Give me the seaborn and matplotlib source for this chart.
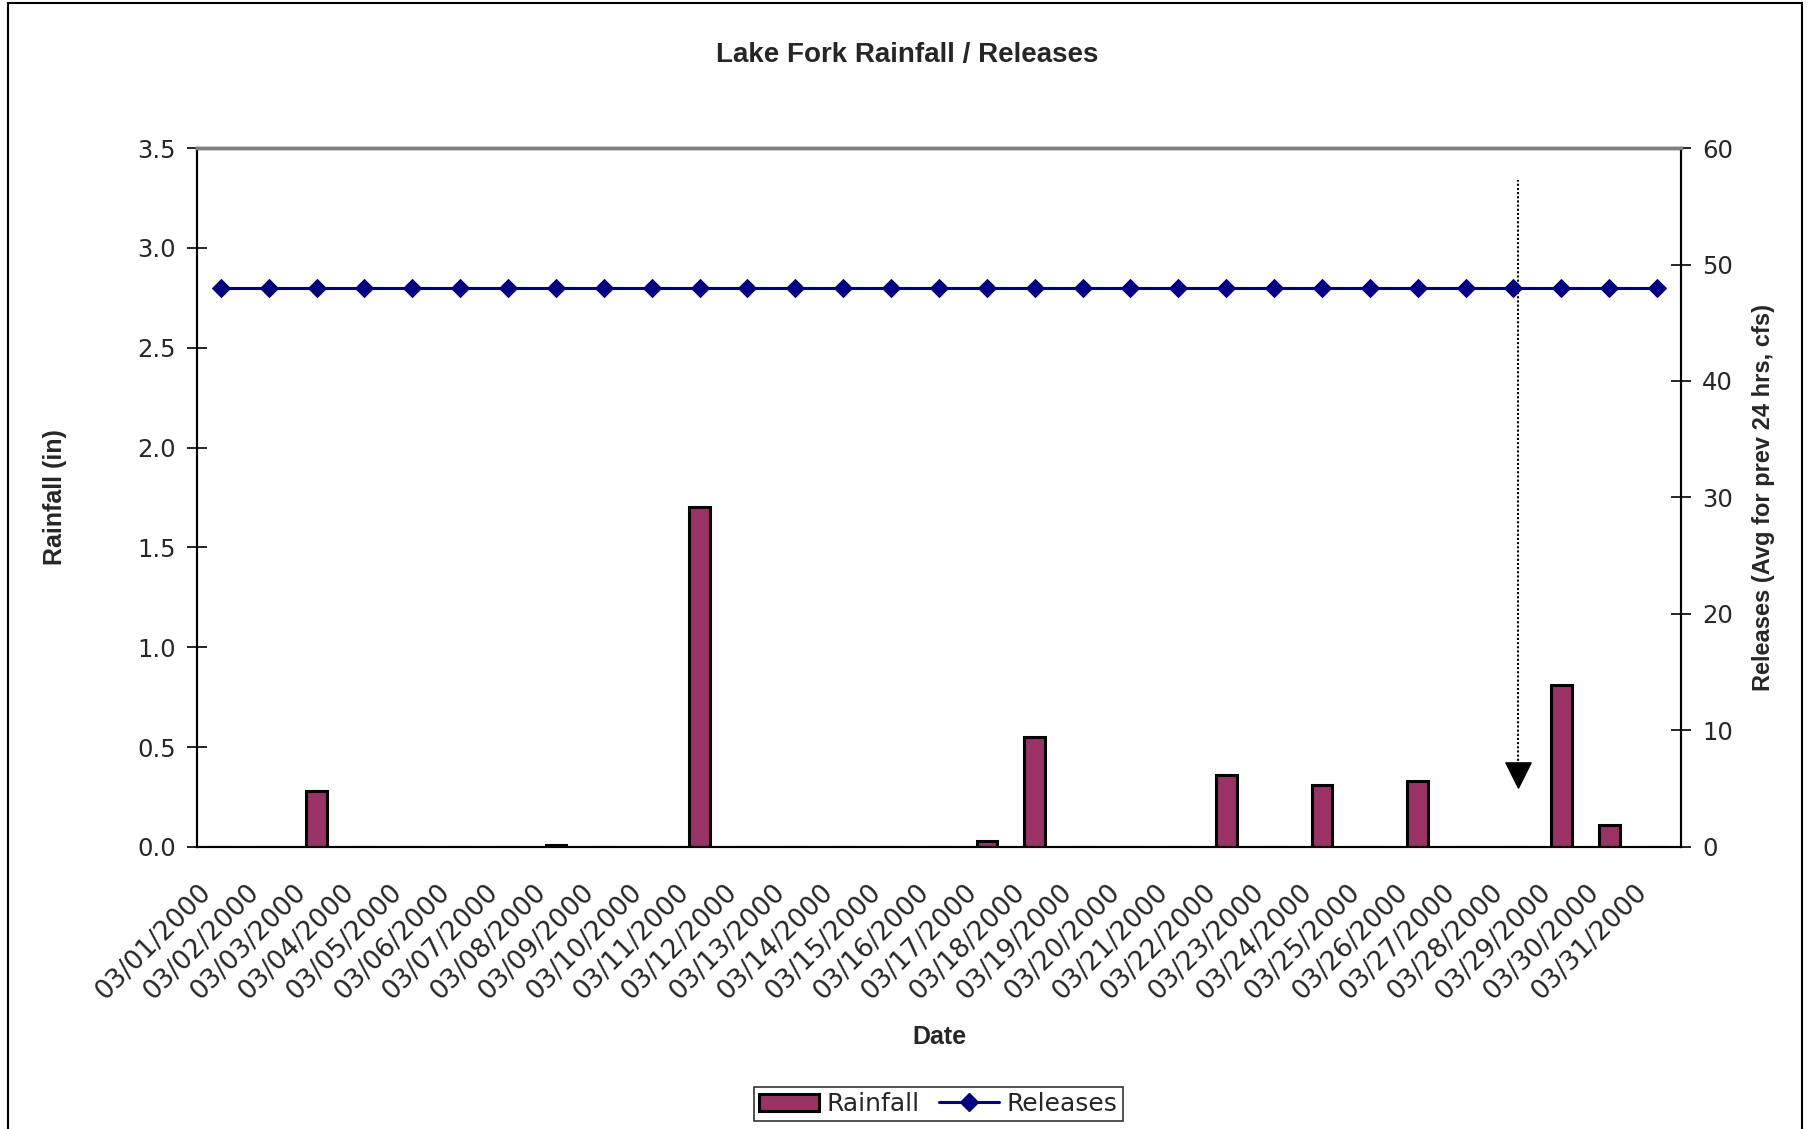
"""
Lake Fork rainfall / releases — Excel風の棒グラフ + 折れ線グラフ (2軸)
"""
import matplotlib
matplotlib.use("Agg")
import matplotlib.pyplot as plt
import matplotlib.transforms as mtransforms
from matplotlib.patches import Rectangle, Patch
from matplotlib.lines import Line2D
import pandas as pd
import seaborn as sns

# データ
dates = [f"03/{d:02d}/2000" for d in range(1, 32)]
rainfall = [0.00, 0.00, 0.28, 0.00, 0.00, 0.00, 0.00, 0.01, 0.00, 0.00,
            1.70, 0.00, 0.00, 0.00, 0.00, 0.00, 0.03, 0.55, 0.00, 0.00,
            0.00, 0.36, 0.00, 0.31, 0.00, 0.33, 0.00, 0.00, 0.81, 0.11,
            0.00]
releases = [48, 48, 48, 48, 48, 48, 48, 48, 48, 48,
            48, 48, 48, 48, 48, 48, 48, 48, 48, 48,
            48, 48, 48, 48, 48, 48, 48, 48, 48, 48,
            48]
left_ticks = [0.0, 0.5, 1.0, 1.5, 2.0, 2.5, 3.0, 3.5]
right_ticks = [0, 10, 20, 30, 40, 50, 60]

# 矢印 (注記) の位置: カテゴリ位置と雨量軸の値
arrow_x = 27.1
arrow_top = 3.34
arrow_tip = 0.36

BAR_COLOR = "#993366"
LINE_COLOR = "#000080"
TICK_FONT = ["DejaVu Sans"]
BOLD_FONT = ["Liberation Sans Narrow", "Liberation Sans", "DejaVu Sans"]

sns.set_theme(style="white")
plt.rcParams["font.family"] = TICK_FONT

df = pd.DataFrame({"date": dates, "rainfall": rainfall, "releases": releases})
df["pos"] = range(len(df))

fig = plt.figure(figsize=(18.15, 11.29), dpi=100)
ax = fig.add_axes([0.1085, 0.2498, 0.9262 - 0.1085, 0.8689 - 0.2498])

# 雨量 (棒)
sns.barplot(data=df, x="pos", y="rainfall", ax=ax, color=BAR_COLOR,
            width=0.43, edgecolor="black", linewidth=2.2, saturation=1)
ax.set_xlim(-0.5, len(df) - 0.5)
ax.set_ylim(0, 3.5)
ax.set_yticks(left_ticks)
ax.set_yticklabels([f"{v:.1f}" for v in left_ticks], fontsize=17.5)

# 目盛り: ラベルはカテゴリ中心、目盛り線はカテゴリ境界
ax.set_xticks(df["pos"])
ax.set_xticklabels(dates, rotation=45, ha="right", va="center",
                   rotation_mode="anchor", fontsize=19)
ax.set_xticks([p - 0.5 for p in range(len(df) + 1)], minor=True)
ax.tick_params(axis="x", which="major", length=0, pad=30)
ax.tick_params(axis="x", which="minor", direction="inout", length=16,
               width=1.2, color="black")
ax.tick_params(axis="y", direction="inout", length=14, width=1.2,
               color="black", left=True, pad=8)
shift = mtransforms.ScaledTranslation(-0.14, 0, fig.dpi_scale_trans)
for lbl in ax.get_xticklabels():
    lbl.set_transform(lbl.get_transform() + shift)

ax.set_xlabel("Date", fontsize=18, fontweight="bold", family=BOLD_FONT,
              labelpad=14)
ax.set_ylabel("Rainfall (in)", fontsize=18, fontweight="bold",
              family=BOLD_FONT, labelpad=51)

# 放流量 (折れ線, 右軸)
ax2 = ax.twinx()
sns.lineplot(data=df, x="pos", y="releases", ax=ax2, color=LINE_COLOR,
             marker="D", markersize=9, markeredgecolor=LINE_COLOR,
             linewidth=2.2, legend=False)
ax2.set_ylim(0, 60)
ax2.set_yticks(right_ticks)
ax2.set_yticklabels([str(v) for v in right_ticks], fontsize=17.5)
ax2.tick_params(axis="y", direction="inout", length=14, width=1.2,
                color="black", right=True, pad=8)
ax2.set_ylabel("Releases (Avg for prev 24 hrs, cfs)", fontsize=17,
               fontweight="bold", family=BOLD_FONT, labelpad=14)
ax2.set_xlabel("")
ax2.set_xlim(-0.5, len(df) - 0.5)

for a in (ax, ax2):
    for side in ("left", "right", "bottom"):
        a.spines[side].set_color("black")
        a.spines[side].set_linewidth(1.5)
    a.spines["top"].set_color("#808080")
    a.spines["top"].set_linewidth(2.5)

# 点線の矢印
ax.vlines(arrow_x, arrow_tip + 0.05, arrow_top, colors="black",
          linestyles=(0, (1, 1)), linewidth=1.5, zorder=4)
ax.scatter([arrow_x], [arrow_tip], marker="v", s=330, color="black",
           zorder=5)

fig.suptitle("Lake Fork Rainfall / Releases", y=0.963, fontsize=20,
             fontweight="bold", family=BOLD_FONT)

handles = [
    Patch(facecolor=BAR_COLOR, edgecolor="black", linewidth=2.2),
    Line2D([0], [0], color=LINE_COLOR, marker="D", markersize=9,
           linewidth=2.2),
]
leg = fig.legend(handles, ["Rainfall", "Releases"], loc="center",
                 bbox_to_anchor=(0.517, 0.022), ncol=2, fontsize=18,
                 frameon=True, fancybox=False, edgecolor="black",
                 borderpad=0.2, handlelength=2.4, columnspacing=0.8,
                 handletextpad=0.3)
leg.get_frame().set_linewidth(1.2)

# 外枠
fig.add_artist(Rectangle((8 / 1815, -0.02), (1802 - 8) / 1815, 1.017,
                         transform=fig.transFigure, fill=False,
                         edgecolor="black", linewidth=1.5))

fig.savefig("out.png", dpi=100)
plt.close(fig)
